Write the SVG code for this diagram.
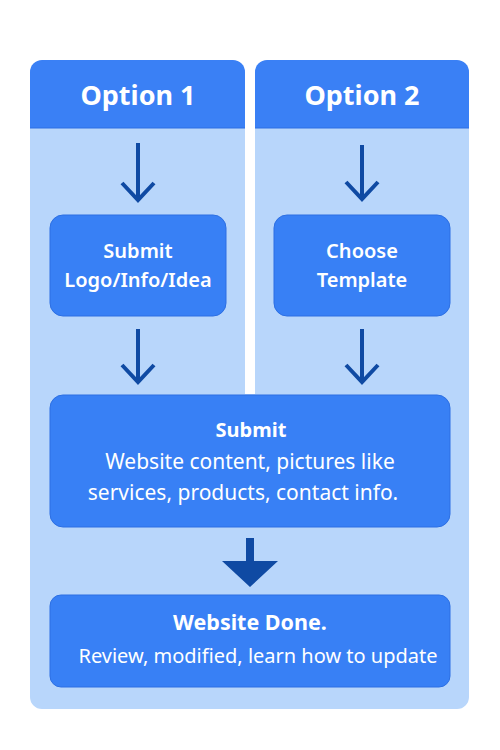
<svg xmlns="http://www.w3.org/2000/svg" width="500" height="750" viewBox="0 0 500 750">
<defs>
<style>
.bg{fill:#B8D6FB}
.hdr{fill:#3A80F5}
.box{fill:#3880F5;stroke:#2C6FE3;stroke-width:1}
.t{font-family:"Noto Sans","Open Sans","DejaVu Sans",sans-serif;fill:#FFFFFF;text-anchor:middle}
.h{font-size:27px;font-weight:700}
.s{font-size:20px;font-weight:600}
.r{font-size:21px;font-weight:400}
.r2{font-size:20px;font-weight:400}
.b{font-size:20px;font-weight:700}
.b2{font-size:21.5px;font-weight:700}
.arr{fill:none;stroke:#0F4AA3;stroke-width:4}
</style>
<marker id="chev" viewBox="-20 -20 24 40" refX="0" refY="0" markerWidth="24" markerHeight="40" markerUnits="userSpaceOnUse" orient="auto">
<path d="M-17,-16 L0,0 L-17,16" fill="none" stroke="#0F4AA3" stroke-width="4"/>
</marker>
</defs>
<rect width="500" height="750" fill="#FFFFFF"/>
<g id="background">
<path class="bg" d="M30,128 H245 V394 H255 V128 H469 V697 A12,12 0 0 1 457,709 H42 A12,12 0 0 1 30,697 Z"/>
</g>
<g id="option1">
<path class="hdr" d="M30,128 V72 A12,12 0 0 1 42,60 H233 A12,12 0 0 1 245,72 V128 Z"/>
<line x1="30" y1="128" x2="245" y2="128" stroke="#2C6FE3" stroke-width="1"/>
<text class="t h" x="138" y="105">Option 1</text>
</g>
<g id="option2">
<path class="hdr" d="M255,128 V72 A12,12 0 0 1 267,60 H457 A12,12 0 0 1 469,72 V128 Z"/>
<line x1="255" y1="128" x2="469" y2="128" stroke="#2C6FE3" stroke-width="1"/>
<text class="t h" x="362" y="105">Option 2</text>
</g>
<g id="submit-logo">
<rect class="box" x="50" y="215" width="176" height="101" rx="13"/>
<text class="t s" x="138" y="258">Submit</text>
<text class="t s" x="138" y="287">Logo/Info/Idea</text>
</g>
<g id="choose-template">
<rect class="box" x="274" y="215" width="176" height="101" rx="13"/>
<text class="t s" x="362" y="258">Choose</text>
<text class="t s" x="362" y="287">Template</text>
</g>
<g id="submit-content">
<rect class="box" x="50" y="395" width="400" height="132" rx="13"/>
<text class="t b" x="251" y="437">Submit</text>
<text class="t r" x="250" y="469">Website content, pictures like</text>
<text class="t r" x="243" y="500">services, products, contact info.</text>
</g>
<g id="website-done">
<rect class="box" x="50" y="595" width="400" height="92" rx="11"/>
<text class="t b2" x="250" y="630">Website Done.</text>
<text class="t r2" x="258" y="663">Review, modified, learn how to update</text>
</g>
<g id="connectors">
<line class="arr" x1="138" y1="143" x2="138" y2="200" marker-end="url(#chev)"/>
<line class="arr" x1="362" y1="145" x2="362" y2="199" marker-end="url(#chev)"/>
<line class="arr" x1="138" y1="329" x2="138" y2="382" marker-end="url(#chev)"/>
<line class="arr" x1="362" y1="329" x2="362" y2="382" marker-end="url(#chev)"/>
<path d="M246,538 H254 V561 H278 L250,587 L222,561 H246 Z" fill="#0F4AA3"/>
</g>
</svg>
